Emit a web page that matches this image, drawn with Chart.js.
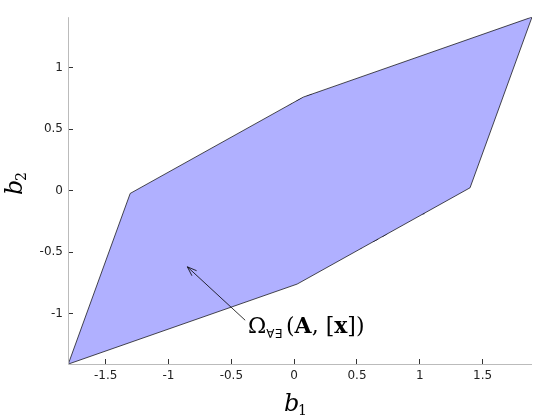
<!DOCTYPE html><html><head><script src="https://cdn.jsdelivr.net/npm/chart.js@4/dist/chart.umd.min.js"></script>
<style>html,body{margin:0;padding:0;background:#fff}#w{width:534px;height:418px}</style></head><body><div id="w"><canvas id="c"></canvas></div><script>
const xTicks=[-1.5,-1,-0.5,0,0.5,1,1.5];
const yTicks=[-1,-0.5,0,0.5,1];
const polyX=[-1.798,-1.305,0.072,1.893,1.40,0.024,-1.798];
const polyY=[-1.411,-0.023,0.76,1.411,0.023,-0.76,-1.411];
const squareX=[-0.43,0.53,0.53,-0.43,-0.43];
const squareY=[0.465,0.465,-0.465,-0.465,0.465];
const dSquareX=[0.07,1.03,1.03,0.07,0.07];
const dSquareY=[0.744,0.744,-0.186,-0.186,0.744];
const circle={cx:0.048,cy:0,rx:0.652,ry:0.636};
const dCircle={cx:0.35,cy:0.17,rx:0.66,ry:0.645};
const arrow={x0:-0.39,y0:-1.054,x1:-0.85,y1:-0.62};
function zip(a,b){return a.map((v,i)=>({x:v,y:b[i]}));}
function ell(c){const p=[];for(let i=0;i<=120;i++){const t=i/120*2*Math.PI;p.push({x:c.cx+c.rx*Math.cos(t),y:c.cy+c.ry*Math.sin(t)});}return p;}
const base={showLine:true,pointRadius:0,tension:0};
const extra={id:'extra',afterDraw(ch){const g=ch.ctx,xs=ch.scales.x,ys=ch.scales.y,a=ch.chartArea;
g.save();g.strokeStyle='#000';g.lineWidth=0.8;
const X0=xs.getPixelForValue(arrow.x0),Y0=ys.getPixelForValue(arrow.y0),X1=xs.getPixelForValue(arrow.x1),Y1=ys.getPixelForValue(arrow.y1);
g.beginPath();g.moveTo(X0,Y0);g.lineTo(X1,Y1);g.stroke();
const ang=Math.atan2(Y1-Y0,X1-X0);g.beginPath();g.moveTo(X1,Y1);g.lineTo(X1-10*Math.cos(ang-0.35),Y1-10*Math.sin(ang-0.35));g.moveTo(X1,Y1);g.lineTo(X1-10*Math.cos(ang+0.35),Y1-10*Math.sin(ang+0.35));g.stroke();
g.strokeStyle='#bbb';g.lineWidth=1;g.beginPath();g.moveTo(a.left+0.5,a.top);g.lineTo(a.left+0.5,a.bottom+0.5);g.lineTo(a.right,a.bottom+0.5);g.stroke();
g.fillStyle='#000';g.textBaseline='alphabetic';
let x=248;const put=(t,f,dy)=>{g.font=f;g.fillText(t,x,333+(dy||0));x+=g.measureText(t).width;};
put('Ω','22px "DejaVu Serif"');put('∀∃','12px "DejaVu Sans"',5);x+=4;put('(','22px "DejaVu Serif"');put('A','bold 22px "DejaVu Serif"');put(', [','22px "DejaVu Serif"');put('x','bold 22px "DejaVu Serif"');put('])','22px "DejaVu Serif"');
g.font='italic 24px "DejaVu Serif"';g.fillText('b',284,411);g.font='14px "DejaVu Serif"';g.fillText('1',298,415);
g.save();g.translate(22,195);g.rotate(-Math.PI/2);g.font='italic 24px "DejaVu Serif"';g.fillText('b',0,0);g.font='14px "DejaVu Serif"';g.fillText('2',14,4);g.restore();
g.restore();}};
new Chart(document.getElementById('c'),{type:'scatter',data:{datasets:[
{...base,data:zip(polyX,polyY),backgroundColor:'rgb(176,176,255)',borderColor:'#000',borderWidth:0.7,fill:'shape'},
{...base,data:ell(circle),backgroundColor:'rgb(124,200,178)',borderColor:'#000',borderWidth:0.8,fill:'shape'},
{...base,data:zip(squareX,squareY),backgroundColor:'rgb(204,80,72)',borderColor:'#000',borderWidth:1.3,fill:'shape'},
{...base,data:ell(dCircle),borderColor:'rgba(20,20,70,0.8)',borderWidth:1,borderDash:[6,5],fill:false},
{...base,data:zip(dSquareX,dSquareY),borderColor:'#141446',borderWidth:1.5,borderDash:[7,4],fill:false}
]},options:{animation:false,responsive:true,maintainAspectRatio:false,
layout:{padding:{top:-18,right:2,bottom:0,left:0}},
plugins:{legend:{display:false},tooltip:{enabled:false},filler:{propagate:false}},
scales:{x:{type:'linear',min:-1.8,max:1.893,afterBuildTicks:s=>{s.ticks=xTicks.map(v=>({value:v}))},
afterFit:s=>{s.height=54},grid:{display:true,drawOnChartArea:false,tickLength:-5,color:'#333'},border:{display:false},
ticks:{color:'#222',font:{family:'DejaVu Sans',size:12},padding:10,callback:v=>String(v)}},
y:{type:'linear',min:-1.41,max:1.41,afterBuildTicks:s=>{s.ticks=yTicks.map(v=>({value:v}))},
afterFit:s=>{s.width=68},grid:{display:true,drawOnChartArea:false,tickLength:-5,color:'#333'},border:{display:false},
ticks:{color:'#222',font:{family:'DejaVu Sans',size:12},padding:10,callback:v=>String(v)}}}},
plugins:[extra]});
</script></body></html>
